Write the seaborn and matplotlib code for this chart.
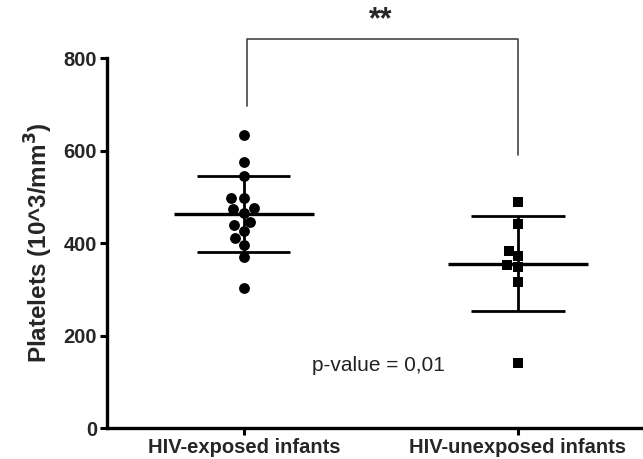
import numpy as np
import pandas as pd
import matplotlib
matplotlib.use("Agg")
import matplotlib.pyplot as plt
import seaborn as sns

# values
groups = ["HIV-exposed infants", "HIV-unexposed infants"]
exposed = [633, 576, 545, 497, 497, 476, 474, 465, 446, 439, 427, 411, 396, 370, 303]
unexposed = [489, 441, 383, 372, 352, 348, 316, 140]
y_ticks = [0, 200, 400, 600, 800]
p_text = "p-value = 0,01"
stars = "**"

df = pd.DataFrame({
    "group": [groups[0]] * len(exposed) + [groups[1]] * len(unexposed),
    "platelets": exposed + unexposed,
})

sns.set_theme(style="ticks")
plt.rcParams["font.family"] = ["Liberation Sans", "DejaVu Sans"]

fig = plt.figure(figsize=(6.43, 4.59), dpi=100)
ax = fig.add_axes([0.166, 0.0675, 0.834, 0.806])

markers = ["o", "s"]
sizes = [7.8, 7.4]
for g, m, s in zip(groups, markers, sizes):
    sns.swarmplot(data=df[df["group"] == g], x="group", y="platelets", order=groups,
                  marker=m, size=s, color="black", ax=ax, zorder=3)

# mean +/- SD bars
for i, g in enumerate(groups):
    vals = df.loc[df["group"] == g, "platelets"]
    m, sd = vals.mean(), vals.std()
    ax.hlines(m, i - 0.255, i + 0.255, color="black", lw=2.4, zorder=4)
    ax.hlines([m - sd, m + sd], i - 0.17, i + 0.17, color="black", lw=2.0, zorder=4)
    ax.vlines(i, m - sd, m + sd, color="black", lw=2.0, zorder=4)

# significance bracket
ax.plot([0.01, 0.01, 1.0, 1.0], [696, 841, 841, 590], color="#444444", lw=1.2,
        clip_on=False)
ax.text(0.5, 850, stars, ha="center", va="bottom", fontsize=22, fontweight="bold")
ax.text(0.49, 136, p_text, ha="center", va="center", fontsize=15, color="#222222")

ax.set_ylim(0, 800)
ax.set_xlim(-0.5, 1.456)
ax.set_yticks(y_ticks)
ax.set_yticklabels([str(t) for t in y_ticks], fontweight="bold", fontsize=14.5)
ax.set_xticks([0, 1])
ax.set_xticklabels(groups, fontweight="bold", fontsize=14.5)
ax.set_xlabel("")
ax.set_ylabel(r"Platelets (10^3/mm$^{\mathbf{3}}$)", fontweight="bold", fontsize=17.5,
              labelpad=6)
ax.tick_params(axis="both", width=2.2, length=5, color="black", pad=2)
for side in ["left", "bottom"]:
    ax.spines[side].set_linewidth(2.4)
    ax.spines[side].set_color("black")
ax.spines["top"].set_visible(False)
ax.spines["right"].set_visible(False)

fig.savefig("out.png", dpi=100)
